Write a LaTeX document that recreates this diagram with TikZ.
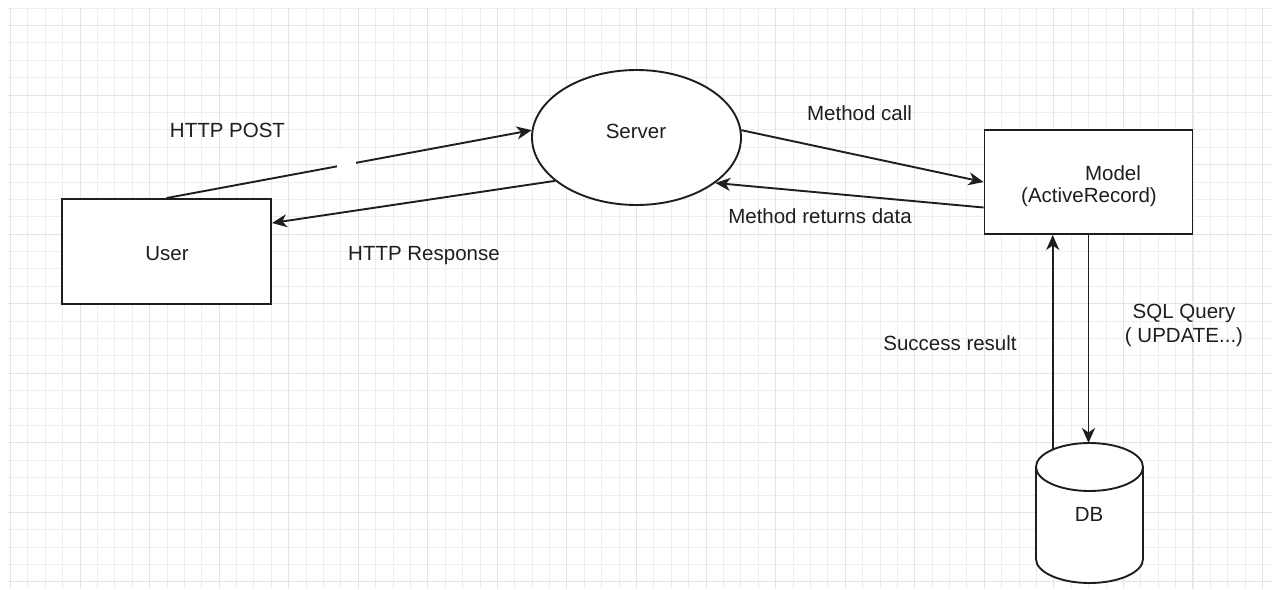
\documentclass[tikz,border=0pt]{standalone}
\usepackage{fontspec}
\setmainfont{Liberation Sans}
\usetikzlibrary{shapes.geometric,arrows.meta}
\definecolor{inkc}{HTML}{1E1E1E}
\definecolor{gridminor}{HTML}{EEEEEE}
\definecolor{gridmajor}{HTML}{E4E4E4}
\begin{document}
\begin{tikzpicture}[x=1pt,y=-1pt,
  box/.style={draw=inkc,line width=1.9pt,fill=white,inner sep=0pt,
              minimum width=209pt,minimum height=105pt},
  bubble/.style={ellipse,draw=inkc,line width=1.9pt,fill=white,inner sep=0pt,
              minimum width=209pt,minimum height=135pt},
  lbl/.style={anchor=base,inner sep=0pt,text=inkc,font=\fontsize{20.5pt}{24pt}\selectfont},
  conn/.style={draw=inkc,line width=1.9pt,-{Stealth[length=15pt,width=13pt,inset=4.5pt]}},
  dbline/.style={draw=inkc,line width=1.9pt,fill=white}]

% canvas
\useasboundingbox (0,0) rectangle (1276,589);
\fill[white] (0,0) rectangle (1276,589);

% background grid
\foreach \i in {-4,...,68}
  \draw[gridminor,line width=0.9pt] ({80+17.39*\i},8) -- ({80+17.39*\i},589);
\foreach \j in {-5,...,28}
  \draw[gridminor,line width=0.9pt] (8,{95+17.39*\j}) -- (1272,{95+17.39*\j});
\foreach \i in {-1,...,17}
  \draw[gridmajor,line width=1pt] ({80+69.56*\i},8) -- ({80+69.56*\i},589);
\foreach \j in {-1,...,7}
  \draw[gridmajor,line width=1pt] (8,{95+69.56*\j}) -- (1272,{95+69.56*\j});

% shapes
\node[box] (user) at (166.5,251.5) {};
\node[bubble] (server) at (636.5,137.5) {};
\node[box,minimum width=208pt,minimum height=104pt] (model) at (1088.5,182) {};

% database cylinder
\path[dbline] (1036,467) -- (1036,559)
  arc[start angle=180,end angle=360,x radius=53.5pt,y radius=24pt]
  -- (1143,467)
  arc[start angle=0,end angle=180,x radius=53.5pt,y radius=24pt] -- cycle;
\draw[inkc,line width=1.9pt] (1036,467)
  arc[start angle=180,end angle=360,x radius=53.5pt,y radius=24pt];
\coordinate (dbtop) at (1088.5,443);
\coordinate (dbleft) at (1052.7,449.6);

% shape texts
\node[lbl] (usertxt) at (167,260) {User};
\node[lbl] (servertxt) at (636,138) {Server};
\node[lbl] (modeltxt) at (1113,180) {Model};
\node[lbl] (artxt) at (1089,202) {(ActiveRecord)};
\node[lbl] (dbtxt) at (1089,521) {DB};

% connectors
\draw[conn] (user.north) -- (server.176);
\fill[white] (337,150) rectangle (356,180);
\draw[conn] (server.208) -- ([yshift=28.5pt]user.east);
\draw[conn] (server.4) -- (model.west);
\draw[conn] ([yshift=-25.5pt]model.west) -- (server.-30);
\draw[conn] (dbleft) -- (dbleft |- model.south);
\draw[conn] (model.south) -- (dbtop);

% connector labels
\node[lbl] (posttxt) at (227.5,137) {HTTP POST};
\node[lbl] (resptxt) at (424,260.5) {HTTP Response};
\node[lbl] (calltxt) at (859.5,120) {Method call};
\node[lbl] (rettxt) at (820,223.5) {Method returns data};
\node[lbl] (sqltxt) at (1184,318) {SQL Query};
\node[lbl] (updtxt) at (1184,342) {( UPDATE...)};
\node[lbl] (oktxt) at (950,350.5) {Success result};
\end{tikzpicture}
\end{document}
